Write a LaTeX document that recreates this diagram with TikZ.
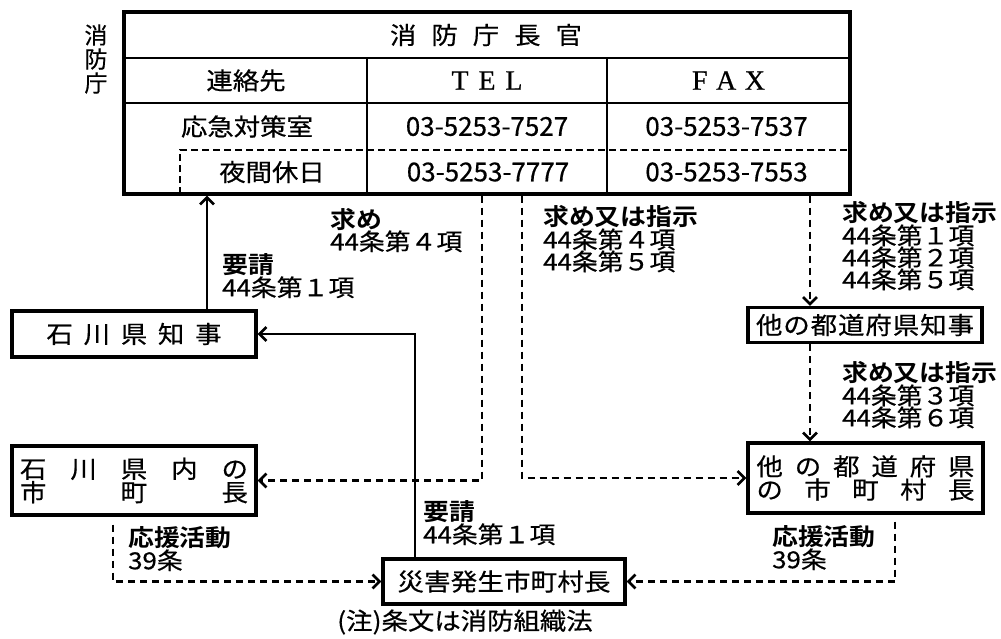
\documentclass[tikz,border=0pt]{standalone}
\usepackage{fontspec}
\setmainfont[FakeBold=0.6]{Liberation Serif}
\newfontfamily\jp[FakeStretch=1.1,UprightFeatures={FakeBold=0.5},BoldFont={Noto Sans CJK JP Bold}]{Noto Sans CJK JP}
\newfontfamily\num[FakeBold=0.5]{Noto Sans CJK JP}
\usetikzlibrary{arrows.meta}
\newcommand{\jspread}[2]{\makebox[#1][s]{#2}}

\begin{document}
\begin{tikzpicture}[x=1pt,y=-1pt,>={Straight Barb[length=7pt,width=14pt]},
        every node/.style={font=\jp\fontsize{24}{22}\selectfont,inner sep=0pt},
        box/.style={draw,line width=3.2pt,align=center,font=\jp\fontsize{24}{22}\selectfont},
        req/.style={->,line width=2.6pt},
        ask/.style={->,line width=2.6pt,dash pattern=on 7pt off 5pt},
        lbl/.style={anchor=north west,align=left,font=\jp\fontsize{23.5}{22}\selectfont},
        tel/.style={font=\num\fontsize{26}{26}\selectfont}]
    \useasboundingbox (0,0) rectangle (1001,638);
    % table
    \node[draw,line width=3.2pt,minimum width=726pt,minimum height=182pt] (chokan) at (487,103) {};
    \draw[line width=2.4pt] (124,58)--(850,58) (124,103)--(850,103) (367,58)--(367,194) (607,58)--(607,194);
    \draw[line width=2.2pt,dash pattern=on 7pt off 4pt] (180,194)--(180,150)--(850,150);
    \node[font=\num\fontsize{23}{24}\selectfont,align=center] (shobocho) at (96,59) {消\\防\\庁};
    \node (kancho) at (486,35) {\jspread{192pt}{消\hfill 防\hfill 庁\hfill 長\hfill 官}};
    \node (renraku) at (246,80.5) {連絡先};
    \node[font=\fontsize{28}{28}\selectfont] (tel) at (487,80.5) {\jspread{71pt}{T\hfill E\hfill L}};
    \node[font=\fontsize{28}{28}\selectfont] (fax) at (728.5,80.5) {\jspread{73pt}{F\hfill A\hfill X}};
    \node (taisaku) at (247,126.5) {応急対策室};
    \node[tel] (tel1) at (487,126.5) {03-5253-7527};
    \node[tel] (fax1) at (726.5,126.5) {03-5253-7537};
    \node (yakan) at (272,172) {夜間休日};
    \node[tel] (tel2) at (488,172) {03-5253-7777};
    \node[tel] (fax2) at (726.5,172) {03-5253-7553};
    % boxes
    \node[box,minimum width=244pt,minimum height=46pt] (chiji) at (134,334) {\jspread{175pt}{石\hfill 川\hfill 県\hfill 知\hfill 事}};
    \node[box,minimum width=244pt,minimum height=69pt] (shicho) at (134,480.5) {\jspread{228pt}{石\hfill 川\hfill 県\hfill 内\hfill の}\\\jspread{228pt}{市\hfill 町\hfill 長}};
    \node[box,minimum width=242pt,minimum height=45pt] (hassei) at (504,581.5) {\jspread{213pt}{災\hfill 害\hfill 発\hfill 生\hfill 市\hfill 町\hfill 村\hfill 長}};
    \node[box,minimum width=234pt,minimum height=35pt] (tachiji) at (865,325) {\jspread{218pt}{他\hfill の\hfill 都\hfill 道\hfill 府\hfill 県\hfill 知\hfill 事}};
    \node[box,minimum width=235pt,minimum height=70pt] (tashicho) at (865.5,478) {\jspread{218pt}{他\hfill の\hfill 都\hfill 道\hfill 府\hfill 県}\\\jspread{218pt}{の\hfill 市\hfill 町\hfill 村\hfill 長}};
    % connectors
    \draw[req] ([xshift=73pt]chiji.north) -- ([xshift=73pt]chiji.north |- chokan.south);
    \draw[req] ([xshift=-89pt]hassei.north) |- (chiji.east);
    \draw[ask] ([xshift=-5pt]chokan.south) |- (shicho.east);
    \draw[ask] ([xshift=35pt]chokan.south) |- (tashicho.west);
    \draw[ask] ([xshift=323pt]chokan.south) -- ([xshift=-55pt]tachiji.north);
    \draw[ask] ([xshift=-55pt]tachiji.south) -- ([xshift=-55.5pt]tashicho.north);
    \draw[ask] ([xshift=-21pt,yshift=-8pt]shicho.south) |- (hassei.west);
    \draw[ask] ([xshift=29.5pt,yshift=-7pt]tashicho.south) |- (hassei.east);
    % labels
    \node[lbl] (motome1) at (330,208) {\textbf{求め}\\44条第４項};
    \node[lbl] (yosei1) at (222,253) {\textbf{要請}\\44条第１項};
    \node[lbl] (shiji1) at (543,205) {\textbf{求め又は指示}\\44条第４項\\44条第５項};
    \node[lbl] (shiji2) at (842,201) {\textbf{求め又は指示}\\44条第１項\\44条第２項\\44条第５項};
    \node[lbl] (shiji3) at (842,361) {\textbf{求め又は指示}\\44条第３項\\44条第６項};
    \node[lbl] (yosei2) at (423,500) {\textbf{要請}\\44条第１項};
    \node[lbl] (ouen1) at (128,526) {\textbf{応援活動}\\39条};
    \node[lbl] (ouen2) at (772,525) {\textbf{応援活動}\\39条};
    \node[font=\jp\fontsize{24}{24}\selectfont] (chu) at (465,622) {(注)条文は消防組織法};
\end{tikzpicture}
\end{document}
